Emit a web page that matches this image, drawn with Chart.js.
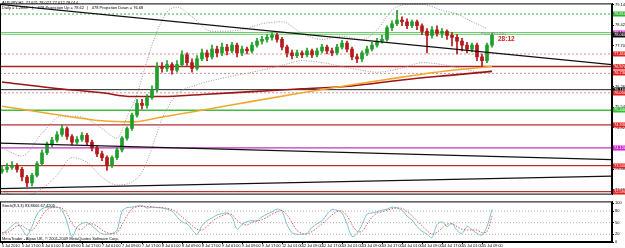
<!DOCTYPE html>
<html>
<head>
<meta charset="utf-8">
<script src="https://cdn.jsdelivr.net/npm/chart.js@4.4.0/dist/chart.umd.min.js"></script>
<style>
  html, body { margin: 0; padding: 0; background: #fff; }
  #wrap { position: relative; width: 625px; height: 248px; overflow: hidden; font-family: "Liberation Sans", Arial, sans-serif; }
  canvas { position: absolute; left: 0; }
  #main { top: 0; }
  #stoch { top: 198px; }
  .t { position: absolute; font-size: 4px; line-height: 5px; color: #000; white-space: nowrap; }
</style>
</head>
<body>
<div id="wrap">
  <canvas id="main" width="625" height="198"></canvas>
  <canvas id="stoch" width="625" height="50"></canvas>
  <div class="t" style="left:2px;top:0px">AUDJPY,H2&nbsp; 77.621 78.027 77.612 78.014</div>
  <div class="t" style="left:2px;top:5px">Daily = 1.2888 &nbsp;&nbsp; | &nbsp;&nbsp; 478 Projection Up = 78.62 &nbsp; | &nbsp; 478 Projection Down = 76.68</div>
  <div class="t" style="left:481px;top:31px;color:#888">Pivot 78.1440</div>
  <div class="t" style="left:498px;top:35px;font-size:6.5px;line-height:7px;font-weight:bold;color:#d02020">28:12</div>
  <div class="t" style="left:2px;top:203px">Stoch(8,3,3) 83.8606 67.4205</div>
  <div class="t" style="left:2px;top:236px">MetaTrader - Alpari UK, © 2001-2009 MetaQuotes Software Corp.</div>
</div>
<script>
// AUDJPY H2 candles
const opens = [73.30, 73.37, 73.44, 73.50, 73.37, 73.10, 72.89, 73.16, 73.57, 73.95,
  74.25, 74.39, 74.59, 74.80, 74.52, 74.32, 74.42, 74.56, 74.32, 74.12,
  73.91, 73.78, 73.50, 73.78, 74.05, 74.46, 74.80, 75.27, 75.68, 75.61,
  75.88, 76.16, 76.97, 76.90, 77.04, 76.84, 77.04, 77.38, 77.11, 76.90,
  77.24, 77.45, 77.31, 77.58, 77.45, 77.65, 77.52, 77.72, 77.45, 77.58,
  77.52, 77.72, 77.86, 77.92, 77.99, 78.06, 77.92, 77.65, 77.45, 77.35,
  77.45, 77.38, 77.52, 77.38, 77.52, 77.65, 77.52, 77.45, 77.65, 77.79,
  77.58, 77.31, 77.24, 77.45, 77.58, 77.72, 77.86, 77.92, 78.33, 78.47,
  78.60, 78.54, 78.40, 78.54, 78.40, 78.20, 78.06, 78.26, 78.13, 78.20,
  78.06, 77.99, 77.86, 77.72, 77.58, 77.72, 77.31, 77.18, 77.72];
const highs = [73.50, 73.57, 73.64, 73.57, 73.44, 73.16, 73.23, 73.64, 74.05, 74.32,
  74.49, 74.69, 74.93, 74.86, 74.59, 74.52, 74.66, 74.63, 74.39, 74.18,
  74.01, 73.84, 73.84, 74.12, 74.52, 74.86, 75.34, 75.82, 75.82, 75.99,
  76.29, 77.11, 77.11, 77.18, 77.11, 77.18, 77.52, 77.45, 77.24, 77.35,
  77.58, 77.55, 77.72, 77.69, 77.79, 77.75, 77.82, 77.79, 77.69, 77.65,
  77.82, 77.96, 78.03, 78.09, 78.16, 78.13, 77.99, 77.72, 77.55, 77.55,
  77.52, 77.62, 77.58, 77.62, 77.75, 77.72, 77.62, 77.75, 77.89, 77.86,
  77.65, 77.41, 77.52, 77.69, 77.82, 77.96, 78.06, 78.40, 78.57, 78.94,
  78.71, 78.64, 78.60, 78.60, 78.47, 78.30, 78.37, 78.40, 78.30, 78.26,
  78.16, 78.09, 77.96, 77.82, 77.79, 77.79, 77.41, 77.79, 78.13];
const lows = [73.23, 73.27, 73.37, 73.27, 72.96, 72.76, 72.79, 73.10, 73.50, 73.88,
  74.15, 74.32, 74.52, 74.42, 74.22, 74.25, 74.35, 74.22, 74.01, 73.81,
  73.67, 73.33, 73.44, 73.71, 73.98, 74.39, 74.73, 75.20, 75.48, 75.51,
  75.82, 76.09, 76.77, 76.80, 76.70, 76.77, 76.97, 77.01, 76.77, 76.84,
  77.18, 77.18, 77.24, 77.31, 77.35, 77.38, 77.45, 77.31, 77.35, 77.41,
  77.45, 77.65, 77.75, 77.82, 77.89, 77.82, 77.55, 77.31, 77.24, 77.28,
  77.28, 77.31, 77.28, 77.31, 77.45, 77.41, 77.35, 77.38, 77.58, 77.48,
  77.21, 77.11, 77.14, 77.35, 77.52, 77.65, 77.79, 77.86, 78.23, 78.40,
  78.40, 78.30, 78.33, 78.26, 78.09, 77.45, 77.96, 78.03, 77.99, 77.92,
  77.69, 77.41, 77.52, 77.45, 77.48, 77.18, 76.97, 77.11, 77.65];
const closes = [73.37, 73.44, 73.50, 73.37, 73.10, 72.89, 73.16, 73.57, 73.95, 74.25,
  74.39, 74.59, 74.80, 74.52, 74.32, 74.42, 74.56, 74.32, 74.12, 73.91,
  73.78, 73.50, 73.78, 74.05, 74.46, 74.80, 75.27, 75.68, 75.61, 75.88,
  76.16, 76.97, 76.90, 77.04, 76.84, 77.04, 77.38, 77.11, 76.90, 77.24,
  77.45, 77.31, 77.58, 77.45, 77.65, 77.52, 77.72, 77.45, 77.58, 77.52,
  77.72, 77.86, 77.92, 77.99, 78.06, 77.92, 77.65, 77.45, 77.35, 77.45,
  77.38, 77.52, 77.38, 77.52, 77.65, 77.52, 77.45, 77.65, 77.79, 77.58,
  77.31, 77.24, 77.45, 77.58, 77.72, 77.86, 77.92, 78.33, 78.47, 78.60,
  78.54, 78.40, 78.54, 78.40, 78.20, 78.06, 78.26, 78.13, 78.20, 78.06,
  77.99, 77.86, 77.72, 77.58, 77.72, 77.31, 77.18, 77.72, 78.06];

// moving averages (sampled at these bars)
const maBars = [0, 10, 20, 26, 32, 40, 50, 60, 70, 80, 90, 98];
const maSlow = [76.43, 76.22, 76.05, 75.92, 75.92, 75.99, 76.09, 76.19, 76.29, 76.50, 76.67, 76.80];
const maFast = [75.58, 75.31, 75.07, 75.03, 75.20, 75.44, 75.75, 76.05, 76.33, 76.60, 76.84, 76.97];

// bollinger bands
const upperBars = [0, 4, 8, 12, 16, 20, 23, 25, 27, 29, 31, 33, 35, 38, 42, 48, 52, 56, 60, 64, 68, 72, 75, 78, 81, 84, 88, 91, 94, 97];
const upperBand = [74.12, 73.84, 74.63, 75.24, 75.20, 74.80, 74.46, 75.20, 75.99, 77.18, 78.20, 78.88, 79.05, 78.71, 78.20, 78.26, 78.47, 78.54, 78.13, 77.92, 78.03, 77.92, 78.26, 78.94, 79.15, 79.15, 78.94, 78.81, 78.54, 78.30];
const lowerBars = [0, 4, 8, 11, 14, 17, 20, 23, 26, 28, 30, 32, 35, 39, 44, 50, 56, 60, 64, 68, 72, 75, 78, 81, 84, 88, 92, 96, 98];
const lowerBand = [72.59, 72.42, 72.69, 73.16, 73.78, 73.61, 73.10, 72.82, 72.93, 73.27, 74.12, 75.14, 75.99, 76.33, 76.56, 76.77, 77.01, 77.18, 77.11, 76.97, 76.84, 76.77, 76.84, 76.97, 77.11, 77.04, 76.90, 76.77, 76.84];

// horizontal levels and trend lines
const levelPrices = [78.81, 78.16, 78.10, 77.41, 76.97, 76.73, 76.16, 76.05, 75.44, 74.93, 74.12, 73.50, 72.59];
const trendStart = [79.15, 74.29, 72.69];
const trendEnd = [77.04, 73.71, 73.13];
const extraLabel = 78.13;

const priceTicks = [79.14, 78.42, 77.70, 76.98, 76.26, 75.54, 74.82, 74.10, 73.38, 72.66];

// stochastic
const stochMain = [20, 30, 42, 50, 33, 17, 40, 72, 86, 90,
  90, 90, 82, 52, 13, 38, 48, 50, 42, 30,
  21, 20, 22, 30, 80, 89, 90, 93, 94, 88,
  90, 89, 88, 85, 80, 65, 52, 47, 32, 20,
  42, 55, 62, 70, 73, 75, 65, 33, 45, 53,
  55, 55, 65, 72, 78, 85, 80, 45, 24, 20,
  20, 22, 38, 47, 55, 72, 84, 82, 75, 47,
  14, 22, 45, 72, 75, 78, 82, 85, 90, 88,
  82, 67, 57, 40, 28, 20, 11, 45, 52, 40,
  48, 30, 22, 40, 32, 22, 18, 40, 84];
const stochSignal = [25, 24, 32, 42, 42, 33, 30, 45, 68, 84,
  89, 90, 87, 73, 48, 35, 33, 45, 47, 41,
  31, 24, 21, 24, 45, 68, 86, 91, 92, 92,
  91, 89, 89, 87, 84, 76, 65, 54, 43, 33,
  31, 40, 53, 62, 68, 73, 71, 56, 47, 44,
  51, 54, 58, 64, 72, 78, 81, 70, 50, 30,
  22, 21, 27, 36, 47, 58, 70, 79, 80, 68,
  45, 28, 27, 46, 64, 75, 78, 82, 86, 88,
  87, 79, 68, 55, 42, 30, 20, 25, 36, 46,
  47, 40, 33, 31, 31, 31, 24, 27, 67];
const stochLevels = [20, 50, 80];
const stochTicks = [0, 20, 50, 80, 100];

const timeLabels = ['5 Jul 2010', '5 Jul 17:00', '6 Jul 01:00', '6 Jul 09:00', '6 Jul 17:00',
  '7 Jul 01:00', '7 Jul 09:00', '7 Jul 17:00', '8 Jul 01:00', '8 Jul 09:00', '8 Jul 17:00',
  '9 Jul 01:00', '9 Jul 09:00', '9 Jul 17:00', '12 Jul 01:00', '12 Jul 09:00', '12 Jul 17:00',
  '13 Jul 01:00', '13 Jul 09:00', '13 Jul 17:00', '14 Jul 01:00', '14 Jul 09:00', '14 Jul 17:00',
  '15 Jul 01:00', '15 Jul 09:00'];

// ---- layout / style ----
const X_MIN = -0.4, X_MAX = 122;
const Y_MIN = 72.484, Y_MAX = 79.182;
const FONT = '"Liberation Sans", Arial, sans-serif';

const levelColors = ['#3cb043', '#6cc86c', '#6cc86c', '#d88c8c', '#b02020', '#d88c8c', '#222222', '#d88c8c', '#3cc03c', '#b83030', '#c030c0', '#b83030', '#b83030'];
const levelDash = [[2, 2], [], [], [2, 2], [], [2, 2], [], [2, 2], [], [], [], [], []];
const levelWidth = [1, 1, 1, 1, 1.4, 1, 1, 1, 1.4, 1.2, 1.2, 1.2, 1.2];
const labelColors = ['#30b030', '#3a3a3a', '#3a3a3a', '#e02020', '#e02020', '#e02020', '#111111', '#e02020', '#30c030', '#e02020', '#d020d0', '#e02020', '#e02020'];

const bull = closes.map((c, i) => c >= opens[i]);
const candleColors = bull.map(b => b ? '#1f9f2a' : '#b51818');

const levelSets = levelPrices.map((v, k) => ({
  type: 'line',
  data: [{x: X_MIN, y: v}, {x: X_MAX, y: v}],
  borderColor: levelColors[k], borderDash: levelDash[k], borderWidth: levelWidth[k],
  pointRadius: 0, order: 60
}));

const trendSets = trendStart.map((v, k) => ({
  type: 'line',
  data: [{x: X_MIN, y: v}, {x: X_MAX, y: trendEnd[k]}],
  borderColor: '#111', borderWidth: 1.3, pointRadius: 0, order: 5
}));

const bandStyle = {type: 'line', borderColor: '#9a9a9a', borderWidth: 1, borderDash: [1, 1.5], pointRadius: 0, cubicInterpolationMode: 'monotone', order: 45};

const frame = {
  id: 'frame',
  afterDraw(chart) {
    const {ctx, chartArea: a} = chart;
    ctx.save();
    ctx.strokeStyle = '#000';
    ctx.lineWidth = 1;
    ctx.strokeRect(a.left + 0.5, a.top + 0.5, a.right - a.left - 1, a.bottom - a.top - 1);
    ctx.restore();
  }
};

const levelBoxes = {
  id: 'levelBoxes',
  afterDraw(chart) {
    const {ctx, chartArea: a, scales: {y}} = chart;
    const boxes = levelPrices.map((v, k) => ({v: v, c: labelColors[k]}))
      .filter((b, k) => k !== 1 && k !== 2);
    boxes.push({v: extraLabel, c: '#d020d0'});
    boxes.push({v: closes[closes.length - 1], c: '#111111'});
    ctx.save();
    ctx.font = '4px ' + FONT;
    ctx.textBaseline = 'middle';
    boxes.forEach(b => {
      const py = Math.round(y.getPixelForValue(b.v));
      ctx.fillStyle = b.c;
      ctx.fillRect(a.right + 1, py - 2.5, 14, 5);
      ctx.fillStyle = '#fff';
      ctx.fillText(b.v.toFixed(3), a.right + 2, py + 0.3);
    });
    ctx.restore();
  }
};

new Chart(document.getElementById('main'), {
  type: 'bar',
  data: {
    datasets: [
      ...levelSets,
      Object.assign({data: upperBand.map((v, k) => ({x: upperBars[k], y: v}))}, bandStyle),
      Object.assign({data: lowerBand.map((v, k) => ({x: lowerBars[k], y: v}))}, bandStyle),
      {type: 'line', data: maFast.map((v, k) => ({x: maBars[k], y: v})), borderColor: '#f0a830', borderWidth: 1.6, pointRadius: 0, cubicInterpolationMode: 'monotone', order: 30},
      {type: 'line', data: maSlow.map((v, k) => ({x: maBars[k], y: v})), borderColor: '#9c1414', borderWidth: 1.6, pointRadius: 0, cubicInterpolationMode: 'monotone', order: 31},
      {type: 'bar', data: highs.map((h, i) => ({x: i, y: [lows[i], h]})), backgroundColor: candleColors, barThickness: 1, grouped: false, order: 20},
      {type: 'bar', data: closes.map((c, i) => ({x: i, y: [opens[i], c]})), backgroundColor: candleColors, barThickness: 3, minBarLength: 1, grouped: false, order: 10},
      ...trendSets
    ]
  },
  options: {
    responsive: false, animation: false, devicePixelRatio: 1,
    layout: {padding: {top: 1, bottom: 0, left: 0, right: 0}},
    plugins: {legend: {display: false}, tooltip: {enabled: false}},
    scales: {
      x: {type: 'linear', min: X_MIN, max: X_MAX, display: false, offset: false},
      y: {
        position: 'right', min: Y_MIN, max: Y_MAX,
        afterFit(s) { s.width = 13; },
        afterBuildTicks(s) { s.ticks = priceTicks.map(v => ({value: v})); },
        ticks: {font: {size: 4, family: FONT}, color: '#000', padding: 1, callback: v => v.toFixed(3)},
        grid: {drawOnChartArea: false, tickLength: 2, color: '#000'},
        border: {display: true, color: '#000'}
      }
    }
  },
  plugins: [frame, levelBoxes]
});

new Chart(document.getElementById('stoch'), {
  type: 'line',
  data: {
    datasets: [
      ...stochLevels.map(v => ({data: [{x: X_MIN, y: v}, {x: X_MAX, y: v}], borderColor: '#b0b0b0', borderDash: [1, 2], borderWidth: 1, pointRadius: 0})),
      {data: stochSignal.map((v, i) => ({x: i, y: v})), borderColor: '#e05a5a', borderDash: [1.5, 1.5], borderWidth: 1, pointRadius: 0, tension: 0.3},
      {data: stochMain.map((v, i) => ({x: i, y: v})), borderColor: '#79c2cc', borderWidth: 1, pointRadius: 0, tension: 0.3}
    ]
  },
  options: {
    responsive: false, animation: false, devicePixelRatio: 1,
    layout: {padding: {top: 2, bottom: 0, left: 0, right: 0}},
    plugins: {legend: {display: false}, tooltip: {enabled: false}},
    scales: {
      x: {
        type: 'linear', min: X_MIN, max: X_MAX, offset: false,
        afterFit(s) { s.height = 6; },
        afterBuildTicks(s) { s.ticks = timeLabels.map((t, k) => ({value: k * 4})); },
        ticks: {autoSkip: false, maxRotation: 0, align: 'start', font: {size: 3.8, family: FONT}, color: '#000', padding: 0,
          callback: v => timeLabels[Math.round(v / 4)]},
        grid: {drawOnChartArea: false, tickLength: 2, color: '#000'},
        border: {display: true, color: '#000'}
      },
      y: {
        position: 'right', min: 0, max: 105,
        afterFit(s) { s.width = 13; },
        afterBuildTicks(s) { s.ticks = stochTicks.map(v => ({value: v})); },
        ticks: {font: {size: 4, family: FONT}, color: '#000', padding: 1},
        grid: {drawOnChartArea: false, tickLength: 2, color: '#000'},
        border: {display: true, color: '#000'}
      }
    }
  },
  plugins: [frame]
});
</script>
</body>
</html>
